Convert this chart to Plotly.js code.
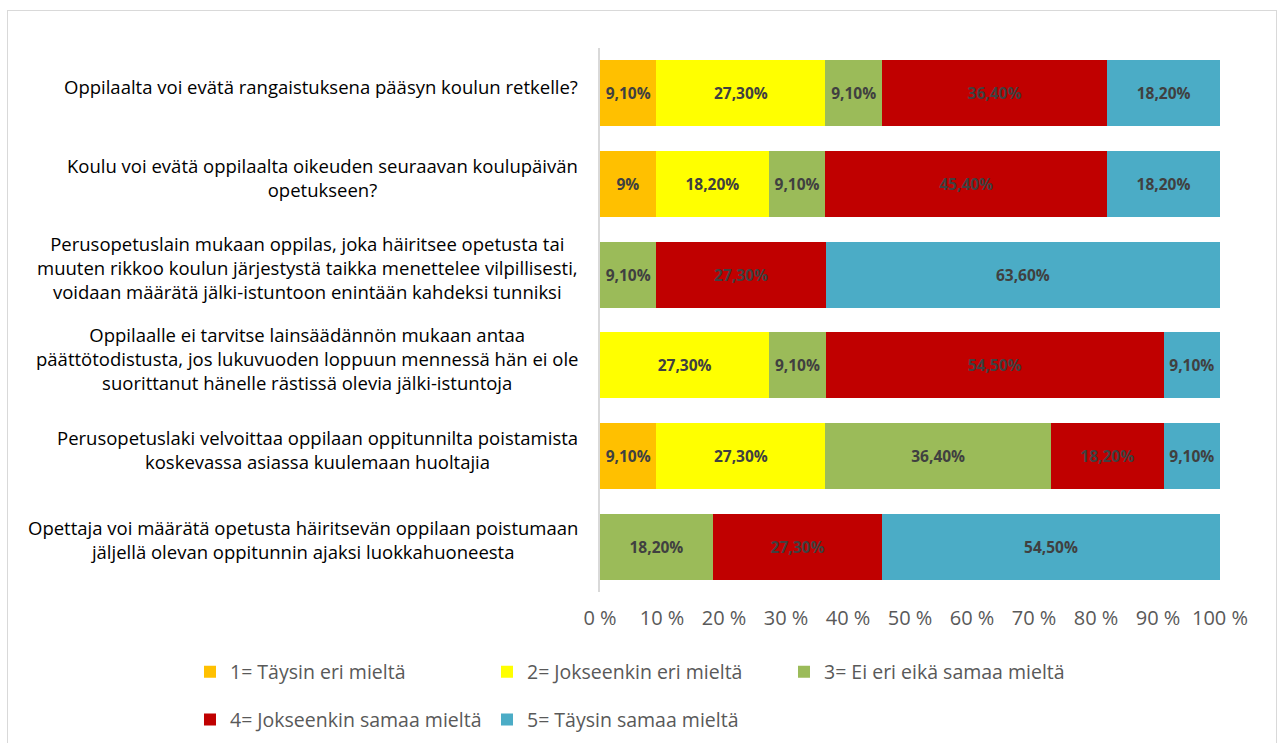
<!DOCTYPE html>
<html><head><meta charset="utf-8">
<script src="https://cdn.plot.ly/plotly-3.0.1.min.js"></script>
<style>
body{margin:0;background:#fff;}
#chart{position:absolute;left:0;top:0;width:1281px;height:743px;}
#frame{position:absolute;left:7px;top:10px;width:1268px;height:745px;border:1px solid #d9d9d9;pointer-events:none;}
</style>
</head><body>
<div id="chart"></div><div id="frame"></div>
<script>
const categories = [
  "Oppilaalta voi evätä rangaistuksena pääsyn koulun retkelle?",
  "Koulu voi evätä oppilaalta oikeuden seuraavan koulupäivän<br>opetukseen?",
  "Perusopetuslain mukaan oppilas, joka häiritsee opetusta tai<br>muuten rikkoo koulun järjestystä taikka menettelee vilpillisesti,<br>voidaan määrätä jälki-istuntoon enintään kahdeksi tunniksi",
  "Oppilaalle ei tarvitse lainsäädännön mukaan antaa<br>päättötodistusta, jos lukuvuoden loppuun mennessä hän ei ole<br>suorittanut hänelle rästissä olevia jälki-istuntoja",
  "Perusopetuslaki velvoittaa oppilaan oppitunnilta poistamista<br>koskevassa asiassa kuulemaan huoltajia",
  "Opettaja voi määrätä opetusta häiritsevän oppilaan poistumaan<br>jäljellä olevan oppitunnin ajaksi luokkahuoneesta"
];
const seriesNames = [
  "1= Täysin eri mieltä",
  "2= Jokseenkin eri mieltä",
  "3= Ei eri eikä samaa mieltä",
  "4= Jokseenkin samaa mieltä",
  "5= Täysin samaa mieltä"
];
const s1 = [9.1, 9, null, null, 9.1, null];
const s2 = [27.3, 18.2, null, 27.3, 27.3, null];
const s3 = [9.1, 9.1, 9.1, 9.1, 36.4, 18.2];
const s4 = [36.4, 45.4, 27.3, 54.5, 18.2, 27.3];
const s5 = [18.2, 18.2, 63.6, 9.1, 9.1, 54.5];
const seriesValues = [s1, s2, s3, s4, s5];
const colors = ["#FFC000", "#FFFF00", "#9BBB59", "#C00000", "#4BACC6"];
const legendIds = ["legend", "legend", "legend", "legend2", "legend2"];
const xTicks = [0,10,20,30,40,50,60,70,80,90,100];
const xTickText = xTicks.map(v => v + " %");

function fmt(v){
  if (v === null) return "";
  return Number.isInteger(v) ? v + "%" : v.toFixed(2).replace(".", ",") + "%";
}

const FONT = "Open Sans, Liberation Sans, Arial, sans-serif";

const traces = seriesValues.map((vals, i) => ({
  type: "bar",
  orientation: "h",
  name: seriesNames[i],
  y: categories,
  x: vals,
  text: vals.map(fmt),
  textposition: "inside",
  insidetextanchor: "middle",
  constraintext: "none",
  textangle: 0,
  textfont: {family: FONT, size: 15.5, color: "#404040", weight: "bold"},
  marker: {color: colors[i], line: {width: 0}},
  legend: legendIds[i],
  hoverinfo: "name+x"
}));

const annotations = categories.map(c => ({
  xref: "paper", yref: "y",
  x: -0.032, y: c,
  xanchor: "right", yanchor: "middle",
  align: "center",
  text: c,
  showarrow: false,
  yshift: 7,
  font: {family: FONT, size: 18.5, color: "#000000"}
}));

const legendFont = {family: FONT, size: 19.5, color: "#595959"};
const legendCommon = {
  orientation: "h",
  xref: "paper", yref: "paper",
  x: -0.6613, xanchor: "left", yanchor: "middle",
  entrywidth: 252, entrywidthmode: "pixels",
  font: legendFont, bgcolor: "rgba(0,0,0,0)", traceorder: "normal"
};

const layout = {
  width: 1281, height: 743,
  margin: {l: 600, r: 61, t: 48, b: 151, autoexpand: false},
  paper_bgcolor: "#ffffff",
  plot_bgcolor: "#ffffff",
  barmode: "stack",
  barnorm: "percent",
  bargap: 0.273,
  showlegend: true,
  xaxis: {
    range: [0, 100],
    tickvals: xTicks,
    ticktext: xTickText,
    showgrid: false,
    zeroline: false,
    showline: false,
    ticks: "",
    ticklabelstandoff: 12,
    tickfont: {family: FONT, size: 20, color: "#595959"},
    fixedrange: true
  },
  yaxis: {
    type: "category",
    autorange: "reversed",
    showticklabels: false,
    showgrid: false,
    zeroline: false,
    showline: true,
    linecolor: "#d9d9d9",
    linewidth: 1.5,
    ticks: "",
    fixedrange: true
  },
  legend: Object.assign({}, legendCommon, {y: -0.147}),
  legend2: Object.assign({}, legendCommon, {y: -0.235}),
  annotations: annotations
};

Plotly.newPlot("chart", traces, layout, {displayModeBar: false});
</script>
</body></html>
